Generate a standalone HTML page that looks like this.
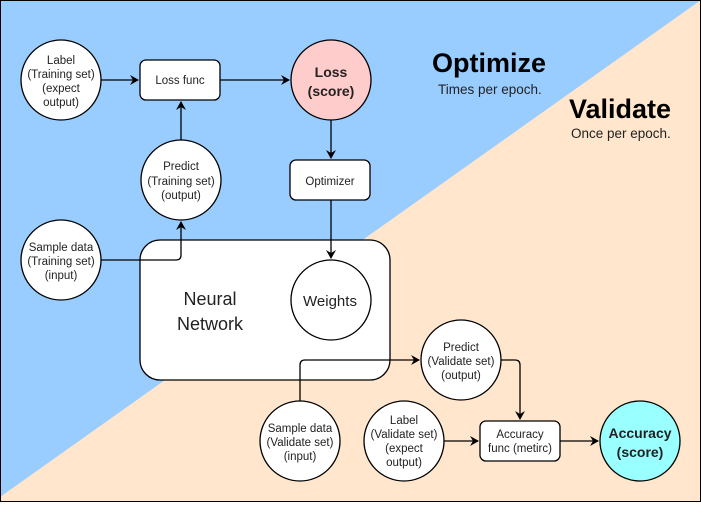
<!DOCTYPE html>
<html><head><style>
body{margin:0;width:701px;height:502px;overflow:hidden}
svg text{font-family:"Liberation Sans",Arial,sans-serif;fill:#222}
</style></head><body>
<svg width="701" height="502" viewBox="0 0 701 502" xmlns="http://www.w3.org/2000/svg">
<defs><marker id="a" markerWidth="10" markerHeight="10" refX="8" refY="5" orient="auto" markerUnits="userSpaceOnUse"><path d="M0,0 L9,5 L0,10 L3,5 Z" fill="#000"/></marker></defs>
<rect x="0" y="0" width="701" height="502" fill="#ffe6cc"/>
<polygon points="0,0 701,0 0,497" fill="#99ccff"/>
<rect x="0.5" y="0.5" width="700" height="501" fill="none" stroke="#000"/>
<rect x="140" y="240" width="250" height="140" rx="20" fill="#fff" stroke="#000" stroke-width="1.3"/>
<g stroke="#000" stroke-width="1.3" fill="none">
<path d="M101,80 H138" marker-end="url(#a)"/>
<path d="M220,80 H289" marker-end="url(#a)"/>
<path d="M181,140 V102" marker-end="url(#a)"/>
<path d="M331,120 V158" marker-end="url(#a)"/>
<path d="M101,260 H176 Q181,260 181,255 V222" marker-end="url(#a)"/>
<path d="M331,200 V258" marker-end="url(#a)"/>
<path d="M300,401 V365 Q300,360 305,360 H419" marker-end="url(#a)"/>
<path d="M501,360 H515 Q520,360 520,365 V419" marker-end="url(#a)"/>
<path d="M444,441 H478" marker-end="url(#a)"/>
<path d="M560,441 H598" marker-end="url(#a)"/>
</g>
<g stroke="#000" stroke-width="1.3" fill="#fff">
<circle cx="61" cy="80" r="40"/>
<rect x="140" y="60" width="80" height="40" rx="6"/>
<circle cx="331" cy="80" r="40" fill="#ffcccc"/>
<rect x="290" y="160" width="80" height="40" rx="6"/>
<circle cx="181" cy="180" r="40"/>
<circle cx="61" cy="260" r="40"/>
<circle cx="331" cy="300" r="40"/>
<circle cx="461" cy="360" r="40"/>
<circle cx="300" cy="441" r="40"/>
<circle cx="404" cy="441" r="40"/>
<rect x="480" y="421" width="80" height="40" rx="6"/>
<circle cx="640" cy="441" r="40" fill="#99ffff"/>
</g>
<g font-size="11.5" text-anchor="middle">
<text x="61" y="64">Label</text><text x="61" y="78">(Training set)</text><text x="61" y="92">(expect</text><text x="61" y="106">output)</text>
<text x="180" y="84">Loss func</text>
<text x="330" y="185">Optimizer</text>
<text x="181" y="170">Predict</text><text x="181" y="185">(Training set)</text><text x="181" y="199">(output)</text>
<text x="61" y="251">Sample data</text><text x="61" y="265">(Training set)</text><text x="61" y="279">(input)</text>
<text x="461" y="351">Predict</text><text x="461" y="365">(Validate set)</text><text x="461" y="379">(output)</text>
<text x="300" y="432">Sample data</text><text x="300" y="446">(Validate set)</text><text x="300" y="460">(input)</text>
<text x="404" y="424">Label</text><text x="404" y="438">(Validate set)</text><text x="404" y="452">(expect</text><text x="404" y="466">output)</text>
<text x="520" y="438">Accuracy</text><text x="520" y="452">func (metirc)</text>
</g>
<g font-size="14" font-weight="bold" text-anchor="middle">
<text x="331" y="77" fill="#000">Loss</text><text x="331" y="96" fill="#000">(score)</text>
<text x="640" y="438" fill="#000">Accuracy</text><text x="640" y="457" fill="#000">(score)</text>
</g>
<text x="330" y="306" font-size="15" text-anchor="middle">Weights</text>
<text x="210" y="305" font-size="18" text-anchor="middle">Neural</text>
<text x="210" y="330" font-size="18" text-anchor="middle">Network</text>
<text x="432" y="72" font-size="27" font-weight="bold" style="fill:#000">Optimize</text>
<text x="438" y="94" font-size="13.5">Times per epoch.</text>
<text x="569" y="118" font-size="27" font-weight="bold" style="fill:#000">Validate</text>
<text x="571" y="138" font-size="13.5">Once per epoch.</text>
</svg>
</body></html>
